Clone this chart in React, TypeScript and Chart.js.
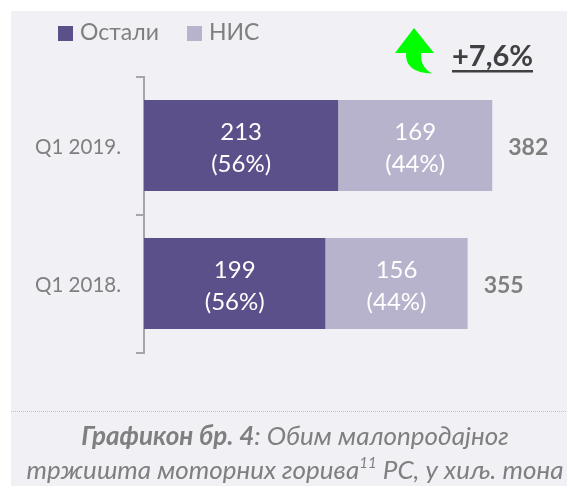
import React, { useEffect, useRef } from "react";
import { Chart, registerables } from "chart.js";

Chart.register(...registerables);

const categories = ["Q1 2019.", "Q1 2018."];
const others = [213, 199];
const nis = [169, 156];
const othersShare = ["(56%)", "(56%)"];
const nisShare = ["(44%)", "(44%)"];
const totals = [382, 355];
const growth = "+7,6%";
const FONT = "Lato, 'Open Sans', sans-serif";
const GREY = "#7f7f7f";

const overlay = {
  id: "overlay",
  beforeDraw(chart: any) {
    const { ctx } = chart;
    ctx.save();
    ctx.fillStyle = "#f0f0f5";
    ctx.fillRect(11, 11, 556, 475);
    ctx.restore();
  },
  afterDraw(chart: any) {
    const { ctx } = chart;
    ctx.save();
    ctx.textBaseline = "middle";
    // data labels
    ctx.textAlign = "center";
    ctx.font = `24px ${FONT}`;
    ctx.fillStyle = "#ffffff";
    const shares = [othersShare, nisShare];
    chart.data.datasets.forEach((ds: any, d: number) => {
      chart.getDatasetMeta(d).data.forEach((bar: any, i: number) => {
        const cx = (bar.base + bar.x) / 2;
        ctx.fillText(String(ds.data[i]), cx, bar.y - 13.5);
        ctx.fillText(shares[d][i], cx, bar.y + 19);
      });
    });
    // totals
    ctx.font = `bold 23px ${FONT}`;
    ctx.fillStyle = GREY;
    ctx.textAlign = "left";
    totals.forEach((t, i) => {
      ctx.fillText(String(t), chart.scales.x.getPixelForValue(t) + 16, chart.scales.y.getPixelForValue(i) + 2);
    });
    // legend
    const legendX = [58, 187];
    chart.data.datasets.forEach((ds: any, d: number) => {
      ctx.fillStyle = ds.backgroundColor;
      ctx.fillRect(legendX[d], 26, 15, 15);
      ctx.fillStyle = GREY;
      ctx.font = `23px ${FONT}`;
      ctx.fillText(ds.label, legendX[d] + 22, 33);
    });
    // growth arrow
    ctx.fillStyle = "#00ff00";
    ctx.beginPath();
    ctx.moveTo(414, 28);
    ctx.lineTo(434, 53);
    ctx.lineTo(421, 53);
    ctx.quadraticCurveTo(420, 67, 432, 73.5);
    ctx.quadraticCurveTo(405, 73, 406, 53);
    ctx.lineTo(395, 53);
    ctx.closePath();
    ctx.fill();
    // growth text
    ctx.fillStyle = "#404040";
    ctx.font = `bold 29px ${FONT}`;
    ctx.textAlign = "left";
    ctx.fillText(growth, 452, 57);
    const gw = ctx.measureText(growth).width;
    ctx.fillRect(452, 70, gw, 2.5);
    // divider
    ctx.strokeStyle = "#c4c4c8";
    ctx.lineWidth = 1;
    ctx.setLineDash([1, 1]);
    ctx.beginPath();
    ctx.moveTo(11, 411.5);
    ctx.lineTo(567, 411.5);
    ctx.stroke();
    ctx.setLineDash([]);
    // caption
    const runs1: [string, string][] = [
      ["Графикон бр. 4", `italic bold 26px ${FONT}`],
      [": Обим малопродајног", `italic 26px ${FONT}`],
    ];
    const runs2: [string, string][] = [
      ["тржишта моторних горива", `italic 26px ${FONT}`],
      ["11", `italic 15px ${FONT}`],
      [" РС, у хиљ. тона", `italic 26px ${FONT}`],
    ];
    ctx.fillStyle = GREY;
    const drawLine = (runs: [string, string][], y: number) => {
      let w = 0;
      runs.forEach(([t, f]) => { ctx.font = f; w += ctx.measureText(t).width; });
      let x = 295 - w / 2;
      runs.forEach(([t, f]) => {
        ctx.font = f;
        ctx.fillText(t, x, t === "11" ? y - 8 : y);
        x += ctx.measureText(t).width;
      });
    };
    drawLine(runs1, 437);
    drawLine(runs2, 471);
    ctx.restore();
  },
};

export default function App() {
  const ref = useRef<HTMLCanvasElement>(null);
  useEffect(() => {
    document.body.style.margin = "0";
    const chart = new Chart(ref.current as HTMLCanvasElement, {
      type: "bar",
      data: {
        labels: categories,
        datasets: [
          { label: "Остали", data: others, backgroundColor: "#5b5089", borderWidth: 0 },
          { label: "НИС", data: nis, backgroundColor: "#b8b3cd", borderWidth: 0 },
        ],
      },
      options: {
        indexAxis: "y",
        responsive: false,
        animation: false,
        events: [],
        layout: { padding: { top: 76.5, bottom: 133.5, left: 0, right: 0 } },
        datasets: { bar: { categoryPercentage: 1, barPercentage: 0.66 } },
        plugins: { legend: { display: false }, tooltip: { enabled: false }, title: { display: false } },
        scales: {
          x: { stacked: true, display: false, min: 0, max: 464 },
          y: {
            stacked: true,
            afterFit(scale: any) { scale.width = 144; },
            grid: { offset: true, drawOnChartArea: false, color: "#a6a6a6", lineWidth: 2, tickLength: 8 },
            border: { color: "#a6a6a6", width: 2 },
            ticks: { color: GREY, padding: 15, labelOffset: 2, font: { family: FONT, size: 20.5 } },
          },
        },
      } as any,
      plugins: [overlay],
    });
    return () => chart.destroy();
  }, []);
  return <canvas ref={ref} width={567} height={486} style={{ display: "block" }} />;
}
